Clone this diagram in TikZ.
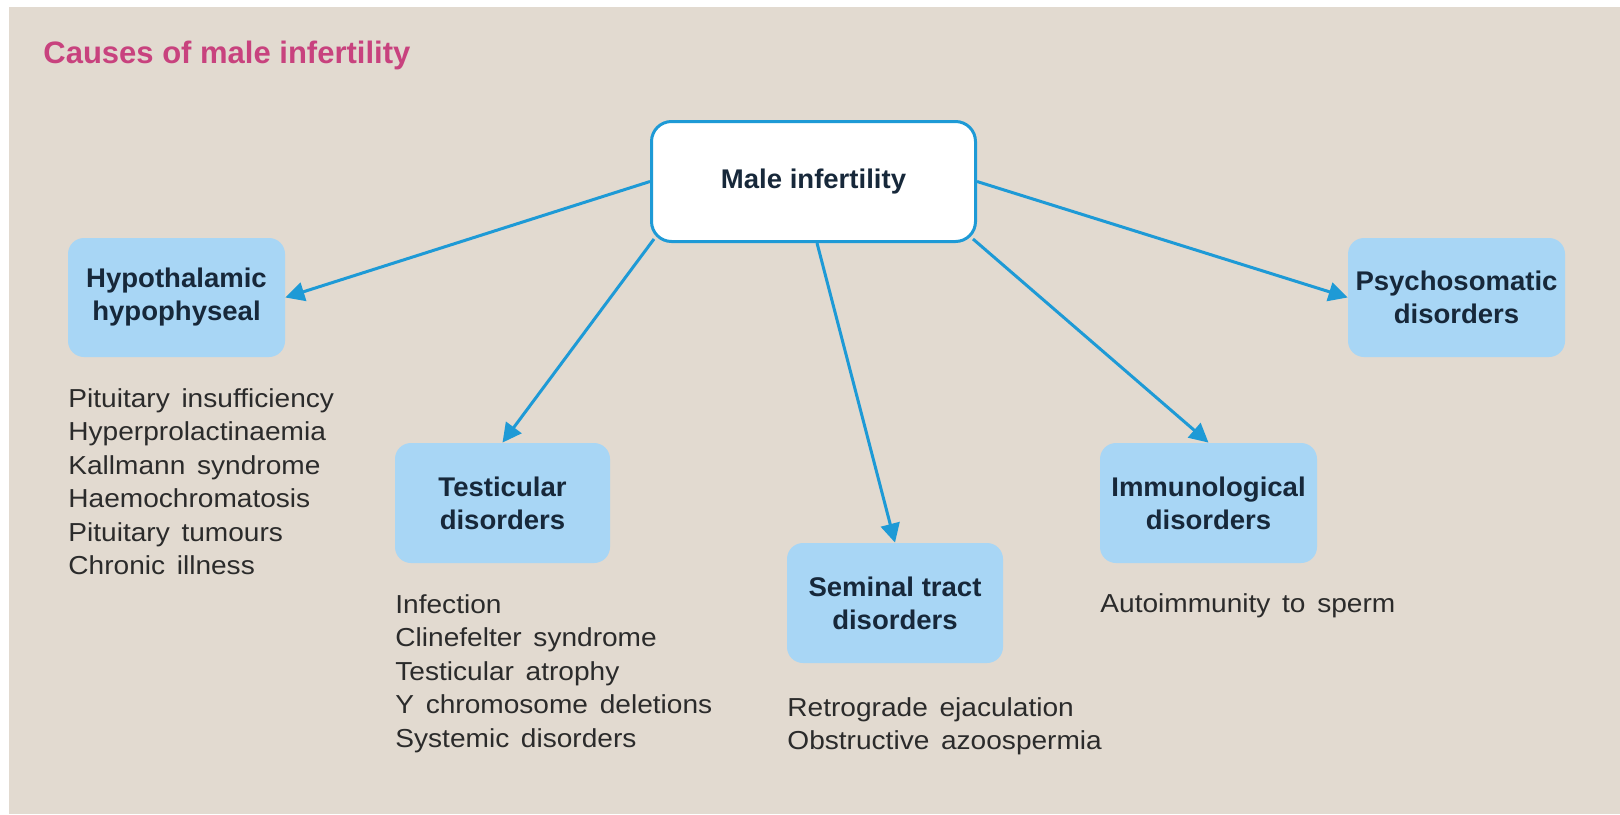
\documentclass[tikz,border=0pt]{standalone}
\usepackage{fontspec}
\setmainfont{Liberation Sans}
\newfontfamily\listfont[FakeStretch=1.08,WordSpace=1.5]{Liberation Sans}
\newfontfamily\labelfont[FakeStretch=1.02]{Liberation Sans}
\usetikzlibrary{arrows.meta}
\definecolor{bgbeige}{HTML}{E2DAD0}
\definecolor{titlepink}{HTML}{C8427E}
\definecolor{boxblue}{HTML}{A8D6F5}
\definecolor{linkblue}{HTML}{1E9AD6}
\definecolor{labelnavy}{HTML}{17283A}
\definecolor{listgray}{HTML}{2B2B2B}
\tikzset{
  mainbox/.style={draw=linkblue, line width=1.5pt, fill=white, rounded corners=10pt,
    minimum width=162pt, minimum height=60pt, inner sep=0pt, align=center,
    text=labelnavy, font=\labelfont\fontsize{13.5}{16.5}\selectfont\bfseries},
  causebox/.style={fill=boxblue, rounded corners=8pt, inner sep=0pt, align=center,
    text=labelnavy, font=\labelfont\fontsize{13.5}{16.5}\selectfont\bfseries},
  causelist/.style={anchor=north west, inner sep=0pt, align=left, text=listgray,
    font=\listfont\fontsize{13}{16.75}\selectfont},
  link/.style={draw=linkblue, line width=1.5pt, -{Triangle[length=9.5pt,width=9.5pt]}}
}
\begin{document}
\begin{tikzpicture}[x=0.5pt,y=-0.5pt]
\useasboundingbox (0,0) rectangle (1620,814);
\fill[white] (0,0) rectangle (1620,814);
\fill[bgbeige] (9,7) rectangle (1620,814);

\node[anchor=base west, inner sep=0pt, text=titlepink, font=\fontsize{15.5}{18}\selectfont\bfseries] (title) at (43,63) {Causes of male infertility};

\node[mainbox] (main) at (813.5,181.5) {Male infertility};

\node[causebox, minimum width=108.5pt, minimum height=59.5pt] (hyp) at (176.5,297.5) {Hypothalamic\\hypophyseal};
\node[causebox, minimum width=107.5pt, minimum height=60pt] (test) at (502.5,503) {Testicular\\disorders};
\node[causebox, minimum width=108pt, minimum height=60pt] (sem) at (895,603) {Seminal tract\\disorders};
\node[causebox, minimum width=108.5pt, minimum height=60pt] (imm) at (1208.5,503) {Immunological\\disorders};
\node[causebox, minimum width=108.5pt, minimum height=59.5pt] (psy) at (1456.5,297.5) {Psychosomatic\\disorders};

\node[causelist] (hyplist) at (68,388) {Pituitary insufficiency\\Hyperprolactinaemia\\Kallmann syndrome\\Haemochromatosis\\Pituitary tumours\\Chronic illness};
\node[causelist] (testlist) at (395,594) {Infection\\Clinefelter syndrome\\Testicular atrophy\\Y chromosome deletions\\Systemic disorders};
\node[causelist] (semlist) at (787,697) {Retrograde ejaculation\\Obstructive azoospermia};
\node[causelist] (immlist) at (1100,593) {Autoimmunity to sperm};

\draw[link] (main.west) -- (hyp.east);
\draw[link] ([xshift=2pt,yshift=2pt]main.south west) -- (test.north);
\draw[link] ([xshift=1.75pt]main.south) -- (sem.north);
\draw[link] ([xshift=-2pt,yshift=2pt]main.south east) -- (imm.north);
\draw[link] (main.east) -- (psy.west);
\end{tikzpicture}
\end{document}
